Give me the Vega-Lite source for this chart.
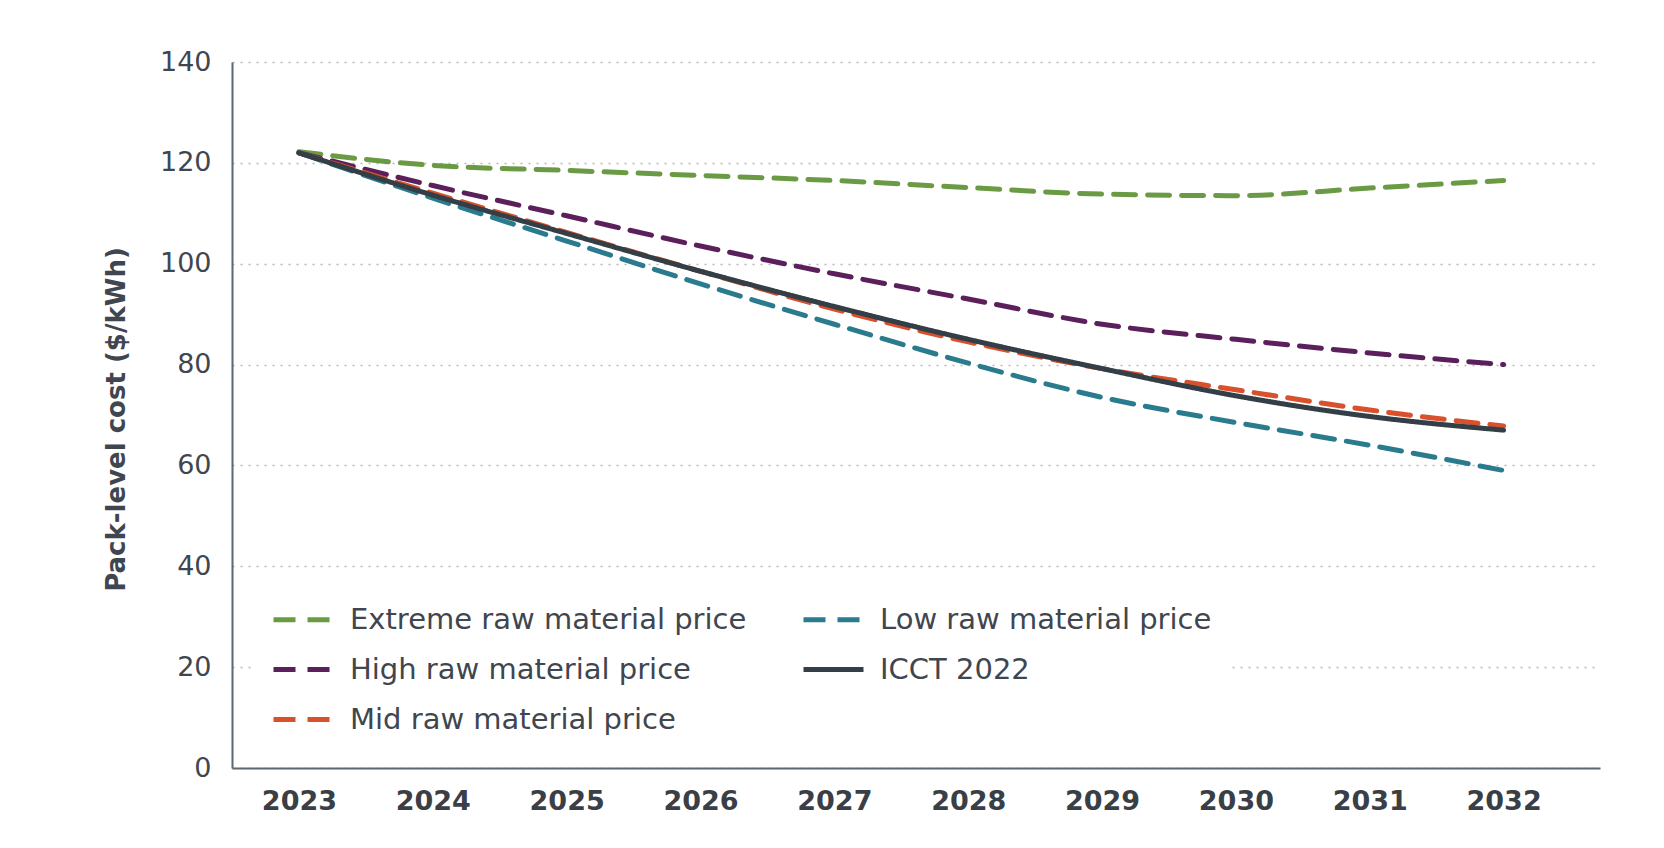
{
  "$schema": "https://vega.github.io/schema/vega-lite/v6.json",
  "background": "white",
  "autosize": "none",
  "padding": {"left": 232, "top": 62, "right": 64, "bottom": 80},
  "width": 1368,
  "height": 706,
  "config": {
    "font": "DejaVu Sans",
    "view": {"stroke": null}
  },
  "data": {
    "values": [
      {"year": 2023, "series": "Extreme raw material price", "cost": 122.2},
      {"year": 2024, "series": "Extreme raw material price", "cost": 119.5},
      {"year": 2025, "series": "Extreme raw material price", "cost": 118.5},
      {"year": 2026, "series": "Extreme raw material price", "cost": 117.5},
      {"year": 2027, "series": "Extreme raw material price", "cost": 116.5},
      {"year": 2028, "series": "Extreme raw material price", "cost": 115.1},
      {"year": 2029, "series": "Extreme raw material price", "cost": 113.8},
      {"year": 2030, "series": "Extreme raw material price", "cost": 113.5},
      {"year": 2031, "series": "Extreme raw material price", "cost": 115.0},
      {"year": 2032, "series": "Extreme raw material price", "cost": 116.5},
      {"year": 2023, "series": "High raw material price", "cost": 122.0},
      {"year": 2024, "series": "High raw material price", "cost": 115.5},
      {"year": 2025, "series": "High raw material price", "cost": 109.5},
      {"year": 2026, "series": "High raw material price", "cost": 103.5},
      {"year": 2027, "series": "High raw material price", "cost": 98.0},
      {"year": 2028, "series": "High raw material price", "cost": 93.0},
      {"year": 2029, "series": "High raw material price", "cost": 88.0},
      {"year": 2030, "series": "High raw material price", "cost": 85.0},
      {"year": 2031, "series": "High raw material price", "cost": 82.3},
      {"year": 2032, "series": "High raw material price", "cost": 80.0},
      {"year": 2023, "series": "Mid raw material price", "cost": 122.0},
      {"year": 2024, "series": "Mid raw material price", "cost": 114.0},
      {"year": 2025, "series": "Mid raw material price", "cost": 106.2},
      {"year": 2026, "series": "Mid raw material price", "cost": 98.5},
      {"year": 2027, "series": "Mid raw material price", "cost": 91.0},
      {"year": 2028, "series": "Mid raw material price", "cost": 84.5},
      {"year": 2029, "series": "Mid raw material price", "cost": 79.2},
      {"year": 2030, "series": "Mid raw material price", "cost": 75.0},
      {"year": 2031, "series": "Mid raw material price", "cost": 71.0},
      {"year": 2032, "series": "Mid raw material price", "cost": 67.8},
      {"year": 2023, "series": "Low raw material price", "cost": 122.0},
      {"year": 2024, "series": "Low raw material price", "cost": 113.0},
      {"year": 2025, "series": "Low raw material price", "cost": 104.5},
      {"year": 2026, "series": "Low raw material price", "cost": 96.0},
      {"year": 2027, "series": "Low raw material price", "cost": 88.0},
      {"year": 2028, "series": "Low raw material price", "cost": 80.3},
      {"year": 2029, "series": "Low raw material price", "cost": 73.5},
      {"year": 2030, "series": "Low raw material price", "cost": 68.5},
      {"year": 2031, "series": "Low raw material price", "cost": 64.0},
      {"year": 2032, "series": "Low raw material price", "cost": 59.0},
      {"year": 2023, "series": "ICCT 2022", "cost": 122.0},
      {"year": 2024, "series": "ICCT 2022", "cost": 113.6},
      {"year": 2025, "series": "ICCT 2022", "cost": 106.0},
      {"year": 2026, "series": "ICCT 2022", "cost": 98.5},
      {"year": 2027, "series": "ICCT 2022", "cost": 91.5},
      {"year": 2028, "series": "ICCT 2022", "cost": 85.0},
      {"year": 2029, "series": "ICCT 2022", "cost": 79.2},
      {"year": 2030, "series": "ICCT 2022", "cost": 73.8},
      {"year": 2031, "series": "ICCT 2022", "cost": 69.7},
      {"year": 2032, "series": "ICCT 2022", "cost": 67.0}
    ]
  },
  "mark": {"type": "line", "strokeWidth": 5, "interpolate": "monotone", "strokeCap": "round"},
  "encoding": {
    "x": {
      "field": "year",
      "type": "quantitative",
      "scale": {"domain": [2022.5, 2032.72], "nice": false, "zero": false},
      "axis": {
        "values": [2023, 2024, 2025, 2026, 2027, 2028, 2029, 2030, 2031, 2032],
        "format": "d",
        "title": null,
        "grid": false,
        "ticks": false,
        "domainColor": "#5f6770",
        "domainWidth": 2,
        "labelFontSize": 27,
        "labelFontWeight": "bold",
        "labelColor": "#3a3f45",
        "labelPadding": 20
      }
    },
    "y": {
      "field": "cost",
      "type": "quantitative",
      "scale": {"domain": [0, 140], "nice": false},
      "axis": {
        "values": [0, 20, 40, 60, 80, 100, 120, 140],
        "title": "Pack-level cost ($/kWh)",
        "titleFontSize": 26,
        "titleFontWeight": "bold",
        "titleColor": "#3f4650",
        "titleX": -116,
        "titleY": 357,
        "titleAngle": -90,
        "titleAlign": "center",
        "titleBaseline": "middle",
        "ticks": false,
        "domainColor": "#5f6770",
        "domainWidth": 2,
        "gridColor": "#b8b8b8",
        "gridDash": [2, 6],
        "gridWidth": 1.5,
        "labelFontSize": 27,
        "labelColor": "#3f4650",
        "labelPadding": 21
      }
    },
    "color": {
      "field": "series",
      "type": "nominal",
      "scale": {
        "domain": ["Extreme raw material price", "High raw material price", "Mid raw material price", "Low raw material price", "ICCT 2022"],
        "range": ["#6b9a45", "#5b1f5b", "#d8502c", "#2b7b8e", "#343e46"]
      },
      "legend": {
        "title": null,
        "orient": "none",
        "legendX": 23,
        "legendY": 509,
        "columns": 2,
        "columnPadding": 46,
        "rowPadding": 2,
        "padding": 16,
        "fillColor": "white",
        "symbolType": "stroke",
        "symbolSize": 3600,
        "symbolStrokeWidth": 5,
        "labelFontSize": 29,
        "labelColor": "#3f4650",
        "labelOffset": 14,
        "labelLimit": 600
      }
    },
    "strokeDash": {
      "field": "series",
      "type": "nominal",
      "scale": {
        "domain": ["Extreme raw material price", "High raw material price", "Mid raw material price", "Low raw material price", "ICCT 2022"],
        "range": [[22, 12], [22, 12], [22, 12], [22, 12], [1, 0]]
      },
      "legend": null
    }
  }
}
